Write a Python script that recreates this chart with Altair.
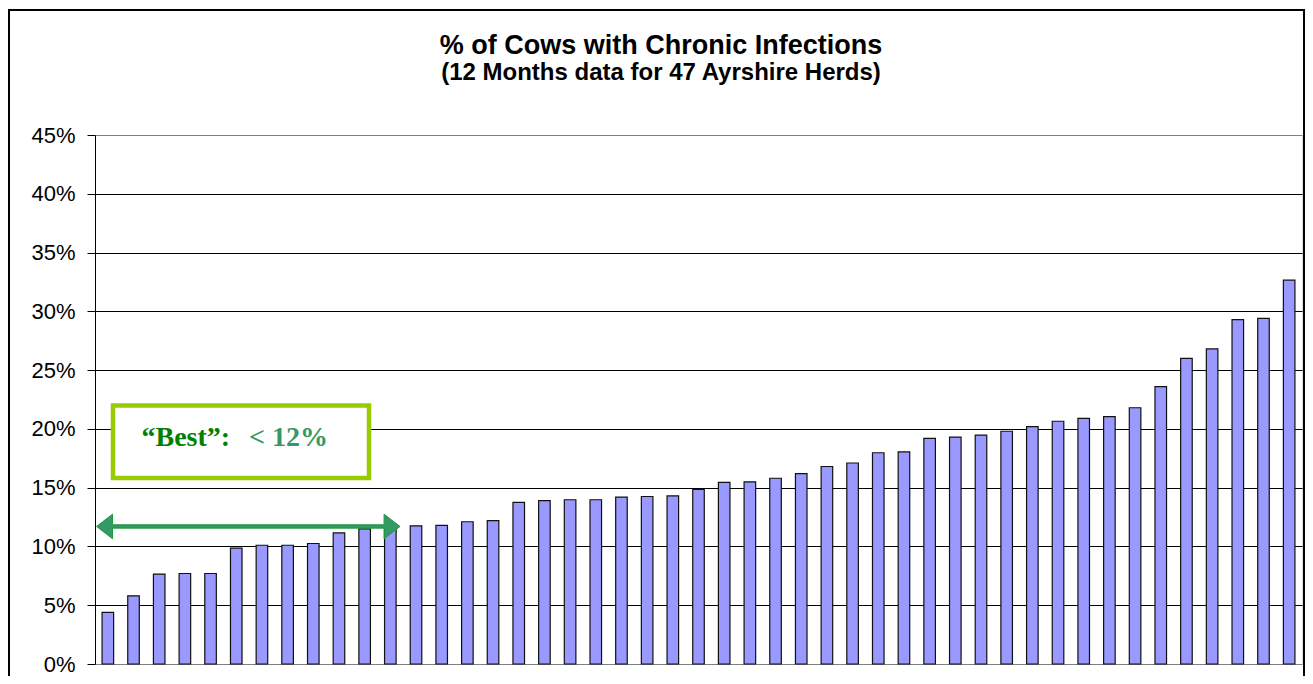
import altair as alt
import pandas as pd

# ---- data ----
herd_rank = list(range(1, 48))
chronic_pct = [
    0.044, 0.058, 0.0765, 0.077, 0.077, 0.0985, 0.101, 0.101, 0.1025, 0.1115, 0.115, 0.116,
    0.1175, 0.118, 0.121, 0.122, 0.1375, 0.139, 0.1397, 0.1397, 0.142, 0.1425, 0.143, 0.1485,
    0.1545, 0.155, 0.158, 0.162, 0.168, 0.171, 0.1797, 0.1805, 0.192, 0.193, 0.1947, 0.198,
    0.202, 0.2065, 0.209, 0.2105, 0.218, 0.236, 0.26, 0.268, 0.293, 0.294, 0.3265,
]
y_ticks = [0.0, 0.05, 0.10, 0.15, 0.20, 0.25, 0.30, 0.35, 0.40, 0.45]
title_text = ["% of Cows with Chronic Infections"]
subtitle_text = ["(12 Months data for 47 Ayrshire Herds)"]
best_label = ["\u201cBest\u201d:"]
best_value = ["< 12%"]
arrow_level = [0.117]

W, H = 1207, 529

df = pd.DataFrame({"herd": herd_rank, "pct": chronic_pct})
y_scale = alt.Scale(domain=[0, 0.45], nice=False)
y_axis = alt.Axis(
    values=y_ticks, format=".0%", title=None,
    grid=True,
    gridColor={"condition": {"test": "datum.value > 0.44 || datum.value < 0.01",
                             "value": "#808080"},
               "value": "#000000"},
    gridWidth=1,
    labelFont="Liberation Sans", labelFontSize=22, labelColor="#000000",
    tickSize=8, tickColor="#000000", tickWidth=1,
    domainColor="#000000", domainWidth=1,
    labelPadding=12,
)

bars = alt.Chart(df).mark_bar(
    fill="#9999FF", stroke="#111111", strokeWidth=1.2
).encode(
    x=alt.X("herd:O", axis=None,
            scale=alt.Scale(paddingInner=0.55, paddingOuter=0.275)),
    y=alt.Y("pct:Q", scale=y_scale, axis=y_axis),
)

one = pd.DataFrame({"k": [0]})

frame = alt.Chart(one).mark_rect(
    fillOpacity=0, stroke="#000000", strokeWidth=2
).encode(
    x=alt.value(-86), x2=alt.value(1209), y=alt.value(-125), y2=alt.value(600)
)

title_mark = alt.Chart(pd.DataFrame({"t": title_text})).mark_text(
    font="Liberation Sans", fontWeight="bold", fontSize=27, color="#000000",
    align="center", baseline="alphabetic"
).encode(text="t:N", x=alt.value(566), y=alt.value(-81))

subtitle_mark = alt.Chart(pd.DataFrame({"t": subtitle_text})).mark_text(
    font="Liberation Sans", fontWeight="bold", fontSize=24, color="#000000",
    align="center", baseline="alphabetic"
).encode(text="t:N", x=alt.value(566), y=alt.value(-55))

box = alt.Chart(one).mark_rect(
    fill="#ffffff", stroke="#99CC00", strokeWidth=4.5
).encode(
    x=alt.value(18), x2=alt.value(274), y=alt.value(270.5), y2=alt.value(343)
)

best_txt = alt.Chart(pd.DataFrame({"t": best_label})).mark_text(
    font="Liberation Serif", fontWeight="bold", fontSize=28, color="#008000",
    align="left", baseline="alphabetic"
).encode(text="t:N", x=alt.value(46.5), y=alt.value(311))

val_txt = alt.Chart(pd.DataFrame({"t": best_value})).mark_text(
    font="Liberation Serif", fontWeight="bold", fontSize=28, color="#339966",
    align="left", baseline="alphabetic"
).encode(text="t:N", x=alt.value(154), y=alt.value(311))

# double-headed arrow as one custom symbol path (unit box [-1, 1])
arrow_path = ("M -1 0 L -0.895 -0.081 L -0.895 -0.011 L 0.895 -0.011 L 0.895 -0.081 "
              "L 1 0 L 0.895 0.081 L 0.895 0.011 L -0.895 0.011 L -0.895 0.081 Z")
arrow = alt.Chart(pd.DataFrame({"pct": arrow_level})).mark_point(
    shape=arrow_path, filled=True, fill="#339966", stroke="#1f9a3c",
    strokeWidth=1, opacity=1, size=303.4 ** 2
).encode(
    x=alt.value(153.3),
    y=alt.Y("pct:Q", scale=y_scale, axis=y_axis),
)

chart = alt.layer(frame, title_mark, subtitle_mark, bars, box, best_txt, val_txt, arrow).properties(
    width=W, height=H,
    autosize=alt.AutoSizeParams(type="none"),
    padding={"left": 87, "top": 127, "right": 3, "bottom": 12},
).configure_view(
    stroke="#808080", strokeWidth=1
).configure(background="#ffffff")

chart.save("out.html", embed_options={"renderer": "svg", "actions": False})
